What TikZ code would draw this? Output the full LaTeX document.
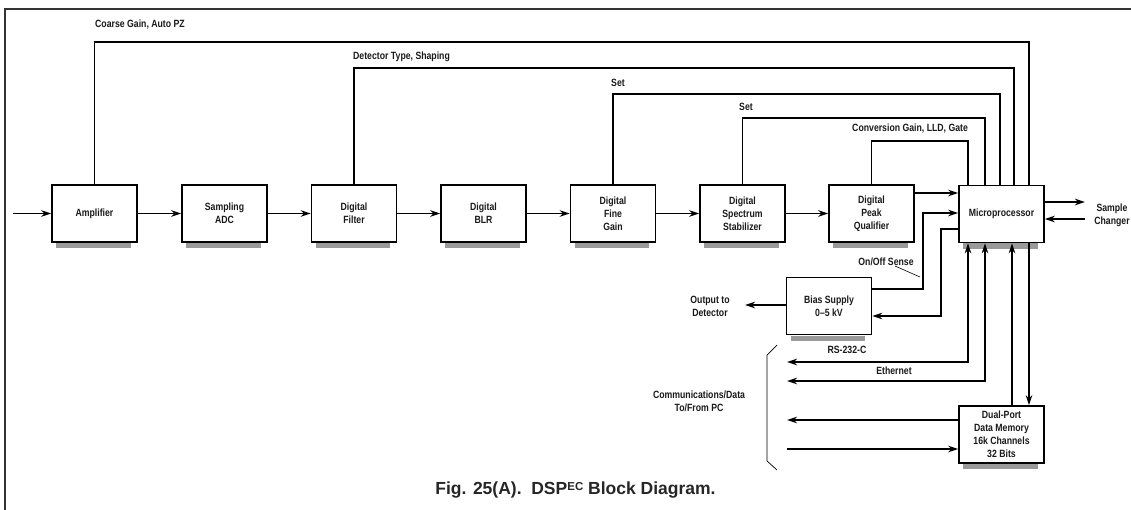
\documentclass[tikz,border=0pt]{standalone}
\usepackage{fontspec}
\setmainfont{Liberation Sans}[FakeStretch=0.83]
\newfontfamily\capfont{Liberation Sans}
\usetikzlibrary{arrows.meta,calc}
\definecolor{shadowgray}{HTML}{9A9A9A}
\definecolor{inkc}{HTML}{1A1A1A}
\begin{document}
\begin{tikzpicture}[x=1pt,y=-1pt,
  blk/.style={draw=black,line width=1.6pt,minimum width=85pt,minimum height=57pt,inner sep=0pt,align=center,
     font=\bfseries\fontsize{10.5}{13}\selectfont,text=inkc},
  lbl/.style={inner sep=0pt,font=\bfseries\fontsize{10.5}{13}\selectfont,text=inkc,align=center},
  ln/.style={line width=1.4pt,line cap=rect},
  arr/.style={line width=1.4pt,-{Stealth[length=10pt,width=6.5pt]}},
  arrb/.style={line width=1.4pt,{Stealth[length=10pt,width=6.5pt]}-{Stealth[length=10pt,width=6.5pt]}}]
\useasboundingbox (0,0) rectangle (1131,510);
\fill[white] (0,0) rectangle (1131,510);
\draw[line width=2pt,black!80] (5,510) -- (5,9.5) -- (1131,9.5);

% main row
\node[blk] (amp)   at (94.5,213.5)  {Amplifier};
\node[blk] (adc)   at (224.5,213.5) {Sampling\\ADC};
\node[blk] (filt)  at (354,213.5)   {Digital\\Filter};
\node[blk] (blr)   at (483.5,213.5) {Digital\\BLR};
\node[blk] (fine)  at (613,213.5)   {Digital\\Fine\\Gain};
\node[blk] (stab)  at (742.5,213.5) {Digital\\Spectrum\\Stabilizer};
\node[blk] (peak)  at (871.5,213.5) {Digital\\Peak\\Qualifier};
\node[blk] (micro) at (1001.5,214)  {Microprocessor};
\node[blk] (bias)  at (829,306)     {Bias Supply\\0--5 kV};
\node[blk] (dual)  at (1001.5,434.5) {Dual-Port\\Data Memory\\16k Channels\\32 Bits};

% shadows
\foreach \b in {amp,adc,filt,blr,fine,stab,peak,micro,bias,dual}{
  \fill[shadowgray] ([xshift=5pt,yshift=-0.2pt]\b.south west) rectangle ([xshift=-7pt,yshift=-5.5pt]\b.south east);
}

% input and chain
\coordinate (in) at (13,213.5);
\draw[arr] (in) -- (amp);
\draw[arr] (amp) -- (adc);
\draw[arr] (adc) -- (filt);
\draw[arr] (filt) -- (blr);
\draw[arr] (blr) -- (fine);
\draw[arr] (fine) -- (stab);
\draw[arr] (stab) -- (peak);
\coordinate (yA) at (0,193);
\draw[arr] (peak.east |- yA) -- (micro.west |- yA);

% feedback lines
\coordinate (cg) at (1029,42);
\coordinate (dt) at (1014,68);
\coordinate (s1) at (1000,94);
\coordinate (s2) at (985,118);
\coordinate (cv) at (968,141);
\draw[ln] (amp.north) |- (cg) -- (micro.north -| cg);
\draw[ln] (filt.north) |- (dt) -- (micro.north -| dt);
\draw[ln] (fine.north) |- (s1) -- (micro.north -| s1);
\draw[ln] (stab.north) |- (s2) -- (micro.north -| s2);
\draw[ln] (peak.north) |- (cv) -- (micro.north -| cv);
\node[lbl,anchor=west] (lcg) at (95,25) {Coarse Gain, Auto PZ};
\node[lbl,anchor=west] (ldt) at (353,57) {Detector Type, Shaping};
\node[lbl,anchor=west] (ls1) at (611,83) {Set};
\node[lbl,anchor=west] (ls2) at (739,107) {Set};
\node[lbl,anchor=west] (lcv) at (852,129) {Conversion Gain, LLD, Gate};

% bias supply connections
\coordinate (yB) at (0,213);
\coordinate (yC) at (0,229);
\coordinate (onA) at (923,289);
\coordinate (bsA) at (941,316);
\draw[arr] (bias.east |- onA) -- (onA) |- (micro.west |- yB);
\draw[arr] (micro.west |- yC) -| (bsA) -- (bias.east |- bsA);
\node[lbl] (lon) at (886,262) {On/Off Sense};
\coordinate (tk1) at (895,266);
\coordinate (tk2) at (920,277);
\draw[line width=0.6pt] (tk1) -- (tk2);
\coordinate (outd) at (745,305);
\draw[arr] (bias.west |- outd) -- (outd);
\node[lbl] (lout) at (710,306.5) {Output to\\Detector};

% sample changer
\coordinate (sc1) at (1085,202);
\coordinate (sc2) at (1085,219);
\draw[arr] (micro.east |- sc1) -- (sc1);
\draw[arr] (sc2) -- (micro.east |- sc2);
\node[lbl] (lsc) at (1112,215) {Sample\\Changer};

% communications
\coordinate (rs) at (787,362);
\coordinate (et) at (787,381);
\coordinate (rsx) at (968,0);
\coordinate (etx) at (985,0);
\coordinate (ux) at (1012,0);
\coordinate (dx) at (1029,0);
\draw[arrb] (rs) -| (micro.south -| rsx);
\draw[arrb] (et) -| (micro.south -| etx);
\draw[arr] (dual.north -| ux) -- (micro.south -| ux);
\draw[arr] (micro.south -| dx) -- (dual.north -| dx);
\node[lbl] (lrs) at (847,350) {RS-232-C};
\node[lbl] (let) at (894,371) {Ethernet};
\coordinate (d1) at (787,420);
\coordinate (d2) at (787,449);
\draw[arr] (dual.west |- d1) -- (d1);
\draw[arr] (d2) -- (dual.west |- d2);
\coordinate (br1) at (777,345);
\coordinate (br2) at (767,355);
\coordinate (br3) at (767,461);
\coordinate (br4) at (777,470);
\draw[line width=0.7pt] (br1) -- (br2) -- (br3) -- (br4);
\node[lbl] (lpc) at (699,401.5) {Communications/Data\\To/From PC};

% caption
\node[inner sep=0pt,text=black!85,font=\capfont\bfseries\fontsize{17.5}{20}\selectfont] (cap) at (575.5,490)
  {Fig. 25(A).\ \ DSP\raisebox{3.8pt}{\fontsize{11.5}{11.5}\selectfont EC} Block Diagram.};
\end{tikzpicture}
\end{document}
